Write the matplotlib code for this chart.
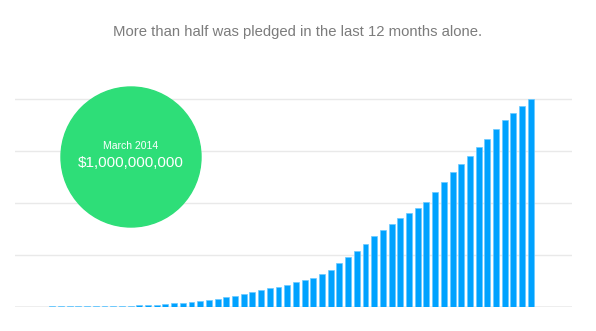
import matplotlib
matplotlib.use("Agg")
import matplotlib.pyplot as plt
from matplotlib.patches import Ellipse

# monthly cumulative pledges, millions of USD (Apr 2009 .. Mar 2014)
pledged = [
    0.1, 0.2, 0.3, 0.5, 2.5, 2.8, 3, 3.3, 3.6, 4,
    4.4, 5, 6, 7, 8.5, 10, 11.5, 14, 17, 20.5,
    25.5, 30, 34, 39, 46, 54, 62, 71, 81, 89,
    98, 106, 118, 128, 139, 157, 178, 212, 242, 269,
    303, 340, 372, 400, 429, 450, 476, 505, 554, 600,
    648, 689, 727, 768, 808, 854, 899, 933, 965, 1000,
]
grid_values = [250, 500, 750, 1000]
title = "More than half was pledged in the last 12 months alone."
badge_date = "March 2014"
badge_total = "$1,000,000,000"

W, H = 596, 331
fig = plt.figure(figsize=(W / 100, H / 100), dpi=100)
fig.patch.set_facecolor("white")

ymax = 1005
ax = fig.add_axes([15 / W, 1 - 307 / H, 557 / W, 208 * ymax / 1000 / H])
xs = list(range(len(pledged)))
ax.bar(xs, pledged, width=0.68, color="#00a2ff", edgecolor="#6ccaff",
       linewidth=0.5, zorder=3)
for g in grid_values:
    ax.axhline(g, color="#e9e9e9", lw=1, zorder=1)
ax.axhline(0, color="#ececec", lw=2, zorder=2)
ax.set_xlim(-0.29, 63.73)
ax.set_ylim(0, ymax)
ax.axis("off")

# green badge drawn over the grid
circ = Ellipse((131 / W, 1 - 157 / H), 140 / W, 140 / H,
               transform=fig.transFigure, color="#2ede78", zorder=5)
fig.add_artist(circ)
fig.text(131 / W, 1 - 146 / H, badge_date, ha="center", va="center",
         color="white", fontsize=7.5, family="Liberation Sans", zorder=6)
fig.text(131 / W, 1 - 163 / H, badge_total, ha="center", va="center",
         color="white", fontsize=11, family="Liberation Sans", zorder=6)

fig.text(298 / W, 1 - 32 / H, title, ha="center", va="center",
         color="#7c7c7c", fontsize=10.75, family="Liberation Sans")

fig.savefig("out.png", dpi=100)
